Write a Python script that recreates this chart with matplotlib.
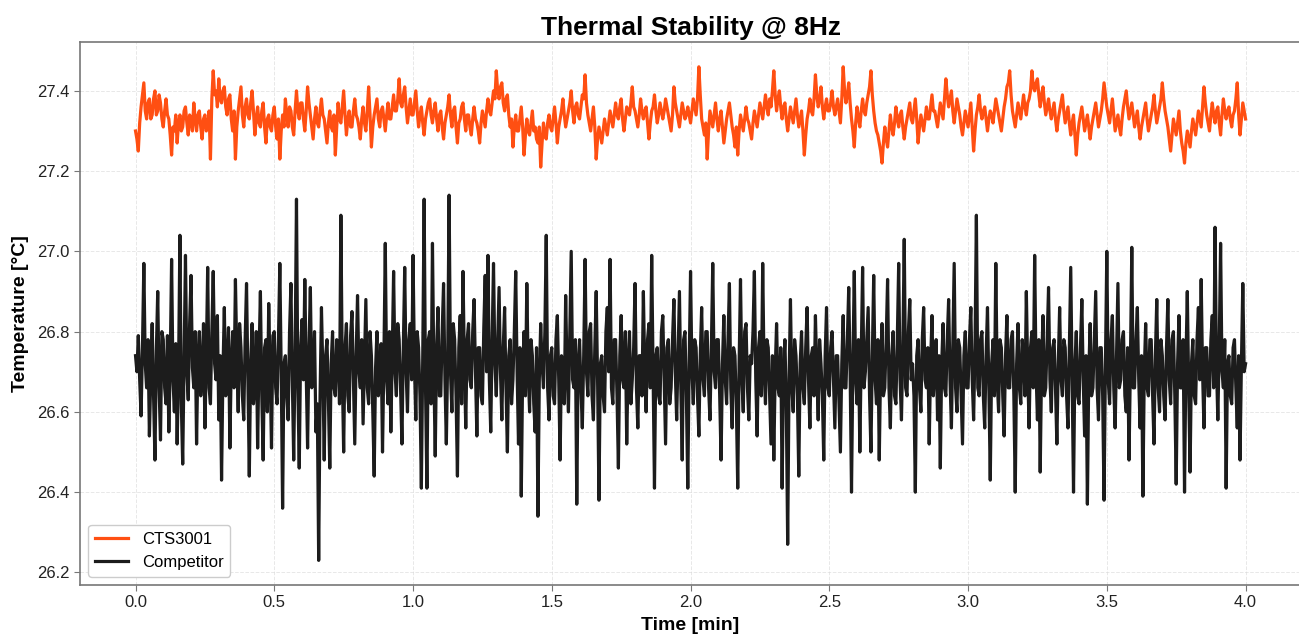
import numpy as np
import matplotlib.pyplot as plt
from matplotlib.ticker import MultipleLocator

plt.rcParams['font.family'] = ['Liberation Sans', 'DejaVu Sans']

# temperature readings [°C], one every 0.005 min, 0 .. 4 min
cts3001 = [
    27.30, 27.28, 27.25, 27.32, 27.36, 27.39, 27.42, 27.35, 27.33, 27.37, 27.38, 27.33, 27.34, 27.38, 27.40, 27.34, 27.35, 27.39, 27.37, 27.33,
    27.31, 27.35, 27.38, 27.34, 27.33, 27.29, 27.24, 27.31, 27.30, 27.34, 27.27, 27.32, 27.34, 27.30, 27.31, 27.35, 27.36, 27.32, 27.29, 27.34,
    27.33, 27.30, 27.37, 27.33, 27.30, 27.34, 27.35, 27.31, 27.28, 27.33, 27.34, 27.30, 27.31, 27.35, 27.23, 27.38, 27.45, 27.39, 27.40, 27.36,
    27.43, 27.38, 27.37, 27.40, 27.41, 27.36, 27.34, 27.38, 27.39, 27.33, 27.30, 27.35, 27.23, 27.31, 27.35, 27.38, 27.41, 27.34, 27.31, 27.36,
    27.38, 27.34, 27.33, 27.37, 27.40, 27.35, 27.29, 27.33, 27.36, 27.32, 27.31, 27.35, 27.37, 27.31, 27.27, 27.33, 27.34, 27.31, 27.30, 27.34,
    27.36, 27.31, 27.28, 27.33, 27.23, 27.30, 27.34, 27.31, 27.38, 27.34, 27.31, 27.36, 27.35, 27.31, 27.29, 27.35, 27.40, 27.35, 27.33, 27.37,
    27.37, 27.33, 27.30, 27.35, 27.41, 27.37, 27.34, 27.31, 27.28, 27.33, 27.36, 27.32, 27.31, 27.35, 27.38, 27.34, 27.33, 27.30, 27.27, 27.32,
    27.35, 27.31, 27.30, 27.34, 27.24, 27.31, 27.37, 27.33, 27.32, 27.36, 27.40, 27.34, 27.29, 27.33, 27.35, 27.31, 27.31, 27.35, 27.38, 27.34,
    27.33, 27.31, 27.28, 27.33, 27.36, 27.32, 27.30, 27.35, 27.41, 27.34, 27.26, 27.31, 27.34, 27.36, 27.38, 27.33, 27.31, 27.35, 27.36, 27.33,
    27.30, 27.34, 27.37, 27.33, 27.33, 27.36, 27.39, 27.35, 27.35, 27.38, 27.43, 27.37, 27.36, 27.39, 27.41, 27.36, 27.32, 27.35, 27.38, 27.34,
    27.34, 27.37, 27.40, 27.35, 27.31, 27.34, 27.36, 27.32, 27.29, 27.33, 27.35, 27.37, 27.38, 27.34, 27.32, 27.35, 27.37, 27.33, 27.30, 27.34,
    27.35, 27.31, 27.28, 27.32, 27.34, 27.36, 27.39, 27.34, 27.31, 27.35, 27.36, 27.31, 27.27, 27.32, 27.33, 27.36, 27.37, 27.33, 27.30, 27.34,
    27.34, 27.31, 27.29, 27.33, 27.36, 27.33, 27.32, 27.30, 27.27, 27.32, 27.35, 27.33, 27.31, 27.35, 27.38, 27.35, 27.34, 27.37, 27.40, 27.38,
    27.45, 27.40, 27.38, 27.41, 27.42, 27.37, 27.35, 27.38, 27.39, 27.34, 27.31, 27.33, 27.26, 27.31, 27.34, 27.30, 27.30, 27.33, 27.36, 27.31,
    27.24, 27.29, 27.33, 27.30, 27.29, 27.32, 27.35, 27.30, 27.31, 27.28, 27.27, 27.31, 27.21, 27.27, 27.32, 27.29, 27.28, 27.32, 27.34, 27.31,
    27.30, 27.33, 27.36, 27.32, 27.27, 27.31, 27.33, 27.35, 27.38, 27.34, 27.31, 27.33, 27.35, 27.37, 27.40, 27.35, 27.32, 27.36, 27.37, 27.34,
    27.33, 27.36, 27.39, 27.38, 27.44, 27.37, 27.34, 27.32, 27.30, 27.33, 27.36, 27.31, 27.23, 27.28, 27.31, 27.29, 27.27, 27.30, 27.33, 27.31,
    27.29, 27.32, 27.35, 27.33, 27.31, 27.34, 27.37, 27.34, 27.33, 27.36, 27.38, 27.33, 27.30, 27.33, 27.36, 27.35, 27.34, 27.37, 27.41, 27.36,
    27.35, 27.33, 27.31, 27.34, 27.38, 27.35, 27.33, 27.35, 27.36, 27.32, 27.28, 27.32, 27.35, 27.36, 27.39, 27.35, 27.32, 27.34, 27.37, 27.35,
    27.33, 27.35, 27.38, 27.36, 27.34, 27.32, 27.30, 27.34, 27.41, 27.37, 27.35, 27.33, 27.31, 27.34, 27.37, 27.35, 27.33, 27.34, 27.36, 27.34,
    27.32, 27.35, 27.38, 27.36, 27.34, 27.38, 27.46, 27.39, 27.33, 27.31, 27.29, 27.32, 27.23, 27.30, 27.35, 27.33, 27.31, 27.34, 27.37, 27.33,
    27.30, 27.33, 27.35, 27.31, 27.27, 27.30, 27.33, 27.35, 27.37, 27.34, 27.31, 27.29, 27.26, 27.31, 27.24, 27.30, 27.34, 27.32, 27.30, 27.33,
    27.36, 27.33, 27.32, 27.30, 27.28, 27.32, 27.35, 27.33, 27.31, 27.34, 27.37, 27.35, 27.33, 27.36, 27.39, 27.36, 27.34, 27.38, 27.36, 27.40,
    27.45, 27.39, 27.35, 27.38, 27.40, 27.36, 27.33, 27.36, 27.37, 27.33, 27.30, 27.33, 27.36, 27.34, 27.32, 27.35, 27.38, 27.34, 27.31, 27.33,
    27.35, 27.30, 27.24, 27.29, 27.33, 27.35, 27.38, 27.35, 27.34, 27.38, 27.44, 27.39, 27.36, 27.38, 27.41, 27.36, 27.33, 27.36, 27.38, 27.35,
    27.35, 27.37, 27.40, 27.36, 27.34, 27.36, 27.38, 27.35, 27.32, 27.38, 27.46, 27.40, 27.37, 27.39, 27.42, 27.37, 27.33, 27.30, 27.26, 27.32,
    27.36, 27.33, 27.31, 27.35, 27.38, 27.35, 27.34, 27.37, 27.39, 27.41, 27.45, 27.39, 27.35, 27.32, 27.30, 27.29, 27.27, 27.25, 27.22, 27.27,
    27.31, 27.28, 27.26, 27.30, 27.34, 27.31, 27.29, 27.32, 27.36, 27.33, 27.31, 27.34, 27.35, 27.31, 27.28, 27.31, 27.33, 27.35, 27.37, 27.33,
    27.32, 27.35, 27.38, 27.33, 27.27, 27.31, 27.34, 27.32, 27.30, 27.33, 27.36, 27.33, 27.33, 27.36, 27.39, 27.35, 27.35, 27.33, 27.31, 27.34,
    27.37, 27.35, 27.33, 27.38, 27.43, 27.39, 27.36, 27.38, 27.40, 27.35, 27.32, 27.35, 27.38, 27.36, 27.34, 27.31, 27.29, 27.32, 27.35, 27.33,
    27.31, 27.34, 27.37, 27.31, 27.25, 27.30, 27.34, 27.36, 27.39, 27.35, 27.33, 27.35, 27.36, 27.33, 27.30, 27.33, 27.35, 27.34, 27.32, 27.35,
    27.38, 27.36, 27.34, 27.32, 27.30, 27.33, 27.36, 27.38, 27.41, 27.42, 27.45, 27.39, 27.35, 27.33, 27.31, 27.34, 27.37, 27.35, 27.33, 27.36,
    27.39, 27.36, 27.34, 27.37, 27.38, 27.40, 27.45, 27.41, 27.40, 27.42, 27.43, 27.39, 27.36, 27.39, 27.41, 27.37, 27.34, 27.36, 27.38, 27.35,
    27.33, 27.35, 27.37, 27.33, 27.30, 27.33, 27.35, 27.37, 27.39, 27.35, 27.32, 27.34, 27.36, 27.32, 27.29, 27.32, 27.34, 27.29, 27.24, 27.29,
    27.32, 27.34, 27.36, 27.33, 27.30, 27.32, 27.34, 27.31, 27.28, 27.31, 27.33, 27.35, 27.37, 27.34, 27.31, 27.33, 27.35, 27.38, 27.42, 27.39,
    27.36, 27.34, 27.32, 27.35, 27.38, 27.34, 27.30, 27.32, 27.34, 27.31, 27.29, 27.33, 27.36, 27.38, 27.40, 27.36, 27.33, 27.35, 27.37, 27.34,
    27.31, 27.33, 27.35, 27.31, 27.28, 27.31, 27.33, 27.35, 27.37, 27.33, 27.30, 27.32, 27.34, 27.36, 27.39, 27.35, 27.32, 27.34, 27.36, 27.38,
    27.42, 27.38, 27.35, 27.33, 27.31, 27.28, 27.25, 27.29, 27.33, 27.31, 27.29, 27.32, 27.35, 27.30, 27.27, 27.25, 27.22, 27.27, 27.30, 27.28,
    27.26, 27.30, 27.33, 27.31, 27.29, 27.32, 27.35, 27.33, 27.31, 27.36, 27.41, 27.37, 27.34, 27.32, 27.30, 27.34, 27.37, 27.34, 27.32, 27.35,
    27.36, 27.32, 27.29, 27.34, 27.38, 27.35, 27.33, 27.35, 27.36, 27.33, 27.31, 27.34, 27.35, 27.38, 27.42, 27.34, 27.29, 27.33, 27.37, 27.35,
    27.33,
]

competitor = [
    26.74, 26.70, 26.79, 26.68, 26.59, 26.76, 26.97, 26.72, 26.66, 26.78, 26.54, 26.69, 26.82, 26.64, 26.48, 26.75, 26.90, 26.66, 26.53, 26.80,
    26.78, 26.66, 26.62, 26.79, 26.55, 26.72, 26.98, 26.68, 26.60, 26.77, 26.52, 26.70, 27.04, 26.62, 26.47, 26.74, 26.99, 26.70, 26.63, 26.82,
    26.94, 26.71, 26.66, 26.80, 26.52, 26.74, 26.80, 26.64, 26.70, 26.82, 26.56, 26.73, 26.96, 26.66, 26.62, 26.80, 26.95, 26.72, 26.68, 26.84,
    26.58, 26.74, 26.43, 26.70, 26.86, 26.64, 26.72, 26.81, 26.51, 26.72, 26.80, 26.66, 26.93, 26.74, 26.60, 26.82, 26.76, 26.64, 26.58, 26.78,
    26.92, 26.68, 26.44, 26.72, 26.82, 26.62, 26.66, 26.80, 26.51, 26.74, 26.90, 26.64, 26.48, 26.76, 26.78, 26.60, 26.87, 26.70, 26.51, 26.79,
    26.80, 26.66, 26.62, 26.78, 26.97, 26.70, 26.36, 26.72, 26.74, 26.64, 26.58, 26.80, 26.92, 26.68, 26.48, 26.74, 27.13, 26.66, 26.46, 26.76,
    26.83, 26.68, 26.93, 26.70, 26.51, 26.76, 26.91, 26.66, 26.70, 26.80, 26.55, 26.62, 26.23, 26.64, 26.86, 26.70, 26.48, 26.74, 26.78, 26.63,
    26.46, 26.72, 26.80, 26.66, 26.64, 26.78, 26.75, 26.62, 27.09, 26.70, 26.50, 26.76, 26.82, 26.64, 26.60, 26.79, 26.85, 26.68, 26.52, 26.74,
    26.89, 26.70, 26.66, 26.78, 26.57, 26.72, 26.88, 26.66, 26.62, 26.80, 26.74, 26.60, 26.44, 26.71, 26.80, 26.64, 26.68, 26.77, 26.50, 26.73,
    27.02, 26.68, 26.62, 26.80, 26.55, 26.74, 26.95, 26.70, 26.64, 26.82, 26.78, 26.66, 26.52, 26.76, 26.96, 26.70, 26.60, 26.78, 26.82, 26.68,
    26.99, 26.72, 26.58, 26.80, 26.76, 26.64, 26.41, 26.74, 27.13, 26.66, 26.41, 26.78, 26.80, 26.62, 27.02, 26.70, 26.49, 26.76, 26.86, 26.64,
    26.64, 26.80, 26.92, 26.68, 26.52, 26.74, 27.14, 26.70, 26.60, 26.82, 26.78, 26.64, 26.44, 26.76, 26.84, 26.62, 26.95, 26.72, 26.56, 26.78,
    26.82, 26.68, 26.66, 26.80, 26.88, 26.70, 26.54, 26.76, 26.76, 26.64, 26.62, 26.81, 26.94, 26.70, 26.99, 26.68, 26.55, 26.78, 26.97, 26.72,
    26.64, 26.78, 26.91, 26.70, 26.58, 26.76, 26.86, 26.66, 26.50, 26.74, 26.78, 26.62, 26.68, 26.80, 26.95, 26.70, 26.52, 26.76, 26.39, 26.70,
    26.80, 26.64, 26.92, 26.70, 26.60, 26.78, 26.74, 26.62, 26.55, 26.76, 26.34, 26.68, 26.82, 26.72, 26.66, 26.80, 27.04, 26.66, 26.58, 26.74,
    26.76, 26.64, 26.62, 26.78, 26.84, 26.68, 26.48, 26.74, 26.72, 26.62, 26.89, 26.70, 26.60, 26.80, 27.00, 26.68, 26.66, 26.78, 26.37, 26.72,
    26.78, 26.66, 26.56, 26.74, 26.98, 26.70, 26.64, 26.80, 26.82, 26.64, 26.58, 26.76, 26.90, 26.68, 26.38, 26.72, 26.74, 26.64, 26.60, 26.80,
    26.86, 26.70, 26.98, 26.66, 26.62, 26.78, 26.78, 26.64, 26.46, 26.74, 26.84, 26.68, 26.66, 26.80, 26.52, 26.72, 26.80, 26.62, 26.68, 26.76,
    26.92, 26.66, 26.56, 26.74, 26.74, 26.64, 26.90, 26.70, 26.60, 26.78, 26.82, 26.66, 26.99, 26.70, 26.41, 26.74, 26.76, 26.64, 26.62, 26.80,
    26.84, 26.68, 26.52, 26.76, 26.78, 26.62, 26.66, 26.78, 26.88, 26.70, 26.58, 26.74, 26.90, 26.66, 26.48, 26.78, 26.80, 26.64, 26.41, 26.72,
    26.95, 26.70, 26.62, 26.78, 26.76, 26.64, 26.54, 26.74, 26.86, 26.68, 26.64, 26.80, 26.80, 26.66, 26.58, 26.76, 26.97, 26.70, 26.66, 26.78,
    26.78, 26.64, 26.48, 26.72, 26.84, 26.68, 26.62, 26.78, 26.92, 26.66, 26.56, 26.76, 26.74, 26.62, 26.41, 26.72, 26.93, 26.68, 26.60, 26.80,
    26.82, 26.66, 26.58, 26.74, 26.72, 26.80, 26.95, 26.68, 26.54, 26.76, 26.80, 26.64, 26.97, 26.70, 26.62, 26.78, 26.76, 26.64, 26.52, 26.74,
    26.48, 26.70, 26.82, 26.66, 26.64, 26.76, 26.41, 26.70, 26.78, 26.62, 26.27, 26.68, 26.88, 26.66, 26.60, 26.78, 26.74, 26.64, 26.44, 26.72,
    26.80, 26.66, 26.62, 26.76, 26.86, 26.68, 26.56, 26.74, 26.76, 26.64, 26.84, 26.70, 26.58, 26.78, 26.72, 26.64, 26.48, 26.74, 26.86, 26.66,
    26.64, 26.76, 26.80, 26.68, 26.56, 26.74, 26.74, 26.62, 26.50, 26.72, 26.84, 26.66, 26.66, 26.78, 26.91, 26.70, 26.40, 26.72, 26.95, 26.68,
    26.62, 26.78, 26.50, 26.74, 26.96, 26.66, 26.70, 26.78, 26.86, 26.64, 26.50, 26.74, 26.94, 26.68, 26.62, 26.78, 26.48, 26.72, 26.82, 26.64,
    26.66, 26.78, 26.93, 26.66, 26.56, 26.74, 26.80, 26.64, 26.62, 26.78, 26.97, 26.68, 26.58, 26.76, 27.03, 26.66, 26.64, 26.80, 26.88, 26.68,
    26.72, 26.64, 26.40, 26.74, 26.78, 26.66, 26.60, 26.78, 26.86, 26.68, 26.66, 26.76, 26.52, 26.72, 26.84, 26.64, 26.70, 26.78, 26.58, 26.74,
    26.46, 26.72, 26.82, 26.66, 26.64, 26.78, 26.88, 26.68, 26.56, 26.76, 26.97, 26.66, 26.60, 26.78, 26.76, 26.64, 26.52, 26.74, 26.80, 26.66,
    26.66, 26.78, 26.86, 26.68, 26.58, 26.76, 27.09, 26.66, 26.64, 26.78, 26.80, 26.64, 26.56, 26.74, 26.86, 26.66, 26.43, 26.72, 26.78, 26.64,
    26.97, 26.68, 26.60, 26.78, 26.76, 26.64, 26.54, 26.74, 26.84, 26.66, 26.66, 26.78, 26.80, 26.64, 26.40, 26.72, 26.82, 26.66, 26.62, 26.78,
    26.74, 26.64, 26.90, 26.70, 26.56, 26.76, 26.80, 26.66, 26.99, 26.70, 26.58, 26.78, 26.45, 26.72, 26.84, 26.64, 26.66, 26.78, 26.91, 26.68,
    26.60, 26.76, 26.78, 26.66, 26.52, 26.72, 26.86, 26.68, 26.64, 26.78, 26.76, 26.64, 26.56, 26.76, 26.96, 26.68, 26.40, 26.72, 26.80, 26.64,
    26.62, 26.76, 26.88, 26.68, 26.54, 26.74, 26.37, 26.70, 26.82, 26.64, 26.66, 26.78, 26.90, 26.66, 26.58, 26.76, 26.76, 26.64, 26.38, 26.72,
    27.00, 26.68, 26.62, 26.78, 26.84, 26.66, 26.56, 26.74, 26.92, 26.66, 26.68, 26.78, 26.80, 26.64, 26.60, 26.76, 26.48, 26.72, 27.01, 26.66,
    26.66, 26.78, 26.86, 26.68, 26.56, 26.74, 26.39, 26.70, 26.82, 26.66, 26.64, 26.78, 26.78, 26.64, 26.52, 26.74, 26.88, 26.66, 26.60, 26.78,
    26.74, 26.64, 26.58, 26.76, 26.88, 26.68, 26.62, 26.78, 26.80, 26.64, 26.42, 26.72, 26.84, 26.66, 26.66, 26.78, 26.40, 26.72, 26.90, 26.66,
    26.45, 26.72, 26.78, 26.64, 26.62, 26.78, 26.86, 26.68, 26.93, 26.70, 26.56, 26.76, 26.76, 26.64, 26.64, 26.78, 26.84, 26.66, 27.06, 26.72,
    26.58, 26.76, 27.02, 26.70, 26.66, 26.78, 26.41, 26.72, 26.74, 26.64, 26.62, 26.76, 26.78, 26.66, 26.56, 26.74, 26.48, 26.72, 26.92, 26.70,
    26.72,
]

t_start, t_end = 0.0, 4.0  # minutes
time_min = np.linspace(t_start, t_end, len(cts3001))

fig = plt.figure(figsize=(12.99, 6.38), dpi=100)
ax = fig.add_axes([0.0616, 0.083, 0.94, 0.851])

ax.plot(time_min, cts3001, color='#ff4f12', lw=2.3, label='CTS3001')
ax.plot(time_min, competitor, color='#1c1c1c', lw=2.3, label='Competitor')

ax.xaxis.set_major_locator(MultipleLocator(0.5))
ax.yaxis.set_major_locator(MultipleLocator(0.2))
ax.grid(True, color='#d8d8d8', ls='--', lw=0.7, alpha=0.6)
for s in ax.spines.values():
    s.set_color('#777777')
    s.set_linewidth(1.2)
ax.tick_params(colors='#777777', labelcolor='#222222', labelsize=12, length=4)

ax.set_title('Thermal Stability @ 8Hz', fontsize=19, fontweight='bold', pad=5)
ax.set_xlabel('Time [min]', fontsize=14, fontweight='bold', labelpad=5)
ax.set_ylabel('Temperature [°C]', fontsize=14, fontweight='bold', labelpad=6)
ax.legend(loc='lower left', fontsize=12, framealpha=1, edgecolor='#cccccc')

fig.savefig('out.png', dpi=100)
